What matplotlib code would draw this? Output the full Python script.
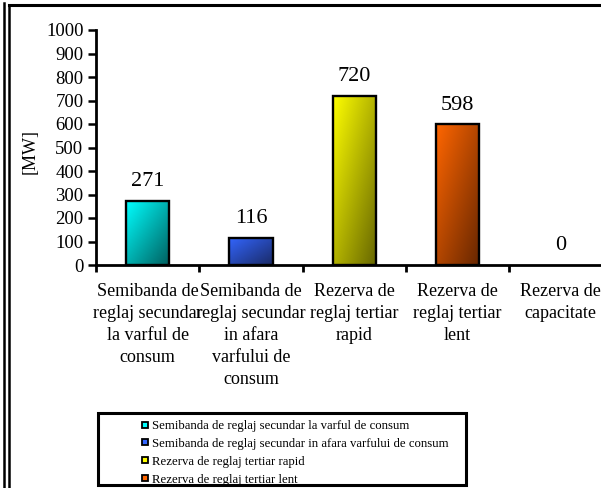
import matplotlib
matplotlib.use("Agg")
import matplotlib.pyplot as plt
import numpy as np
from matplotlib.colors import to_rgb
from matplotlib.lines import Line2D
from matplotlib.patches import Rectangle

plt.rcParams['font.family'] = ['Liberation Serif', 'DejaVu Serif']

# data
categories = [
    "Semibanda de\nreglaj secundar\nla varful de\nconsum",
    "Semibanda de\nreglaj secundar\nin afara\nvarfului de\nconsum",
    "Rezerva de\nreglaj tertiar\nrapid",
    "Rezerva de\nreglaj tertiar\nlent",
    "Rezerva de\ncapacitate",
]
values = [271, 116, 720, 598, 0]
legend_labels = [
    "Semibanda de reglaj secundar la varful de consum",
    "Semibanda de reglaj secundar in afara varfului de consum",
    "Rezerva de reglaj tertiar rapid",
    "Rezerva de reglaj tertiar lent",
]

# gradient colours: top-left light -> bottom-right dark
light = ["#00FFFF", "#3366FF", "#FFFF00", "#FF6600", "#FFFFFF"]
dark = ["#005E5E", "#1A2A66", "#666600", "#662600", "#FFFFFF"]

W, H = 601, 488


def fx(x):
    return x / W


def fy(y):
    return 1 - y / H


fig = plt.figure(figsize=(W / 100, H / 100), dpi=100)
ax = fig.add_axes([fx(96), fy(265), 5 * 103.3 / W, 235 / H])

x = np.arange(len(values))
bars = ax.bar(x, values, width=0.42, facecolor='none', edgecolor='black',
              linewidth=1.7, zorder=3)

for bar, c0, c1 in zip(bars, light, dark):
    h = bar.get_height()
    if h <= 0:
        bar.set_linewidth(0)
        continue
    x0 = bar.get_x()
    w = bar.get_width()
    U, V = np.meshgrid(np.linspace(0, 1, 60), np.linspace(0, 1, 120))
    t = (U + V) / 2
    img = (1 - t)[..., None] * np.array(to_rgb(c0)) + t[..., None] * np.array(to_rgb(c1))
    im = ax.imshow(img, extent=(x0, x0 + w, 0, h), aspect='auto', origin='upper',
                   zorder=2, interpolation='bilinear')
    im.set_clip_path(bar)

for xi, v in zip(x, values):
    ax.annotate(str(v), (xi, v), xytext=(0, 14), textcoords='offset points',
                ha='center', va='center', fontsize=16)

ax.set_xlim(-0.5, 4.5)
ax.set_ylim(0, 1000)
ax.set_yticks(range(0, 1001, 100))
ax.set_xticks(np.arange(-0.5, 5, 1))
ax.set_xticklabels([])
ax.set_xticks(x, minor=True)
ax.set_xticklabels(categories, minor=True, fontsize=13, linespacing=1.38)

for s in ['top', 'right']:
    ax.spines[s].set_visible(False)
for s in ['left', 'bottom']:
    ax.spines[s].set_linewidth(2)
    ax.spines[s].set_clip_on(False)

ax.tick_params(axis='y', direction='out', length=6, width=1.8, labelsize=13.5, pad=3)
ax.tick_params(axis='x', which='major', direction='out', length=5, width=2)
ax.tick_params(axis='x', which='minor', length=0, pad=13)

fig.text(fx(30), fy(152), "[MW]", rotation=90, ha='center', va='center', fontsize=13)

# outer frame
fig.add_artist(Line2D([fx(4), fx(4)], [fy(3), 0], color='black', lw=1.8,
                      transform=fig.transFigure))
fig.add_artist(Line2D([fx(9), fx(9)], [fy(5), 0], color='black', lw=1.8,
                      transform=fig.transFigure))
fig.add_artist(Line2D([fx(9), 1], [fy(5), fy(5)], color='black', lw=2.2,
                      transform=fig.transFigure))

# legend
handles = [Line2D([], [], marker='s', ls='none', markersize=5, mfc=c, mec='black',
                  mew=1.3) for c in light[:4]]
fig.legend(handles, legend_labels, loc='upper left', bbox_to_anchor=(fx(141), fy(420)),
           frameon=False, fontsize=9.2, handlelength=0.7, handletextpad=0.2,
           labelspacing=0.46, borderpad=0, borderaxespad=0)
fig.add_artist(Rectangle((fx(98), fy(485)), (466 - 98) / W, (485 - 413) / H,
                         transform=fig.transFigure, fill=False, lw=2.2,
                         ec='black', zorder=10))

fig.savefig('out.png', dpi=100)
